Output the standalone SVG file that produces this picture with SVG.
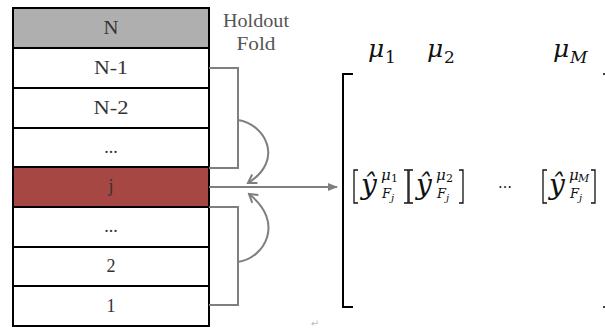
<svg xmlns="http://www.w3.org/2000/svg" width="605" height="329" viewBox="0 0 605 329">
<defs>
<style>
.box{stroke:#000;stroke-width:2}
.lbl{font-family:"Liberation Serif","DejaVu Serif",serif;font-size:18px;fill:#333;text-anchor:middle}
.conn{fill:none;stroke:#7f7f7f;stroke-width:2}
.math{font-family:"DejaVu Serif","Liberation Serif",serif;font-style:italic;fill:#111}
.up{font-style:normal}
.brk{fill:none;stroke:#111;stroke-width:1.3}
</style>
<marker id="tri" markerWidth="10" markerHeight="8" refX="9" refY="4" orient="auto" markerUnits="userSpaceOnUse">
<path d="M0,0 L10,4 L0,8 z" fill="#7f7f7f"/>
</marker>
<marker id="vee" markerWidth="12" markerHeight="12" refX="10" refY="6" orient="auto" markerUnits="userSpaceOnUse">
<path d="M2,1 L10,6 L2,11" fill="none" stroke="#7f7f7f" stroke-width="2"/>
</marker>
</defs>
<rect width="605" height="329" fill="#fff"/>

<g id="fold-N"><rect class="box" x="13" y="8" width="196" height="40" fill="#afafaf"/><text class="lbl" x="111" y="34" textLength="15" lengthAdjust="spacingAndGlyphs">N</text></g>
<g id="fold-N-1"><rect class="box" x="13" y="48" width="196" height="40" fill="#fff"/><text class="lbl" x="111" y="74" textLength="34" lengthAdjust="spacingAndGlyphs">N-1</text></g>
<g id="fold-N-2"><rect class="box" x="13" y="88" width="196" height="40" fill="#fff"/><text class="lbl" x="111" y="114" textLength="35" lengthAdjust="spacingAndGlyphs">N-2</text></g>
<g id="fold-dots-upper"><rect class="box" x="13" y="128" width="196" height="39" fill="#fff"/><text class="lbl" x="111" y="153">...</text></g>
<g id="fold-j"><rect class="box" x="13" y="167" width="196" height="40" fill="#a64744"/><text class="lbl" x="111" y="192">j</text></g>
<g id="fold-dots-lower"><rect class="box" x="13" y="207" width="196" height="40" fill="#fff"/><text class="lbl" x="111" y="232">...</text></g>
<g id="fold-2"><rect class="box" x="13" y="247" width="196" height="39" fill="#fff"/><text class="lbl" x="111" y="272">2</text></g>
<g id="fold-1"><rect class="box" x="13" y="286" width="196" height="40" fill="#fff"/><text class="lbl" x="111" y="312">1</text></g>

<g id="holdout-label">
<text class="lbl" x="256" y="27" style="fill:#555" textLength="66" lengthAdjust="spacingAndGlyphs">Holdout</text>
<text class="lbl" x="256" y="50" style="fill:#555" textLength="39" lengthAdjust="spacingAndGlyphs">Fold</text>
</g>

<g id="connectors">
<path class="conn" d="M209,68 H238 V168 H209"/>
<path class="conn" d="M209,207 H238 V305 H209"/>
<path class="conn" d="M238,120 C265,124 285,160 248,183" marker-end="url(#vee)"/>
<path class="conn" d="M238,262 C265,258 285,222 249,194" marker-end="url(#vee)"/>
<path class="conn" d="M209,187 H337" marker-end="url(#tri)"/>
</g>

<g id="matrix">
<path fill="none" stroke="#000" stroke-width="2" d="M353,74 H343 V307 H353"/>
<path fill="none" stroke="#000" stroke-width="1.5" d="M603,74 H605 M603,307 H605"/>
<text class="math" x="368" y="57" font-size="25">μ</text><text class="math up" x="385" y="63" font-size="17">1</text>
<text class="math" x="427" y="57" font-size="25">μ</text><text class="math up" x="444" y="63" font-size="17">2</text>
<text class="math" x="553" y="57" font-size="25">μ</text><text class="math" x="570" y="63" font-size="17">M</text>

<path class="brk" d="M358,170 h-4 v33 h4 M404,170 h4 v33 h-4"/>
<text class="math" x="361" y="194" font-size="28">ŷ</text>
<text class="math" x="381" y="180" font-size="15">μ</text><text class="math up" x="391" y="182" font-size="11">1</text>
<text class="math" x="382" y="198" font-size="13">F</text><text class="math" x="391" y="201" font-size="10">j</text>

<path class="brk" d="M413,170 h-4 v33 h4 M459,170 h4 v33 h-4"/>
<text class="math" x="416" y="194" font-size="28">ŷ</text>
<text class="math" x="436" y="180" font-size="15">μ</text><text class="math up" x="446" y="182" font-size="11">2</text>
<text class="math" x="437" y="198" font-size="13">F</text><text class="math" x="446" y="201" font-size="10">j</text>

<text x="505" y="188" font-family="DejaVu Serif, serif" font-size="14" fill="#111" text-anchor="middle">…</text>

<path class="brk" d="M547,170 h-4 v33 h4 M591,170 h4 v33 h-4"/>
<text class="math" x="549" y="194" font-size="28">ŷ</text>
<text class="math" x="569" y="180" font-size="15">μ</text><text class="math" x="578" y="182" font-size="11">M</text>
<text class="math" x="570" y="198" font-size="13">F</text><text class="math" x="579" y="201" font-size="10">j</text>
</g>

<text x="315" y="327" font-family="DejaVu Sans, sans-serif" font-size="10" fill="#bbb" text-anchor="middle">↵</text>
</svg>
